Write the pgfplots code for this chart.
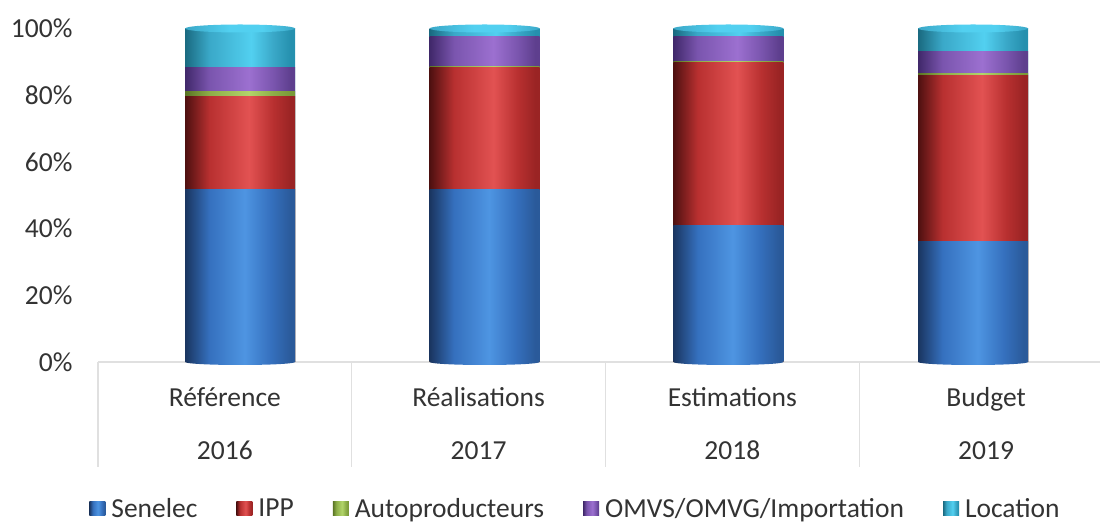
\documentclass[border=0pt]{standalone}
\usepackage{fontspec}
\setmainfont{Carlito}
\usepackage{pgfplots}
\pgfplotsset{compat=1.18}
\usepackage{pgfplotstable}

% cylinder-like horizontal shadings (dark left edge, highlight right of centre)
\definecolor{bD}{HTML}{1A3560}\definecolor{bM}{HTML}{3570BE}\definecolor{bL}{HTML}{4E95E2}\definecolor{bE}{HTML}{2A5A9A}
\definecolor{rD}{HTML}{4E1010}\definecolor{rM}{HTML}{B83030}\definecolor{rL}{HTML}{E25252}\definecolor{rE}{HTML}{9A2424}
\definecolor{gD}{HTML}{5A7424}\definecolor{gM}{HTML}{8DAE48}\definecolor{gL}{HTML}{B2D56A}\definecolor{gE}{HTML}{7A9A38}
\definecolor{pD}{HTML}{40286A}\definecolor{pM}{HTML}{7A55AE}\definecolor{pL}{HTML}{9C70D0}\definecolor{pE}{HTML}{5E3F8E}
\definecolor{cD}{HTML}{1A6A80}\definecolor{cM}{HTML}{3AA8C8}\definecolor{cL}{HTML}{52D0F0}\definecolor{cE}{HTML}{2590AE}
\definecolor{txt}{HTML}{333333}

\pgfdeclarehorizontalshading{cylB}{100bp}{color(0bp)=(bD); color(25bp)=(bD); color(36bp)=(bM); color(52bp)=(bL); color(64bp)=(bM); color(73bp)=(bE); color(100bp)=(bE)}
\pgfdeclarehorizontalshading{cylR}{100bp}{color(0bp)=(rD); color(25bp)=(rD); color(36bp)=(rM); color(54bp)=(rL); color(65bp)=(rM); color(73bp)=(rE); color(100bp)=(rE)}
\pgfdeclarehorizontalshading{cylG}{100bp}{color(0bp)=(gD); color(25bp)=(gD); color(36bp)=(gM); color(54bp)=(gL); color(65bp)=(gM); color(73bp)=(gE); color(100bp)=(gE)}
\pgfdeclarehorizontalshading{cylP}{100bp}{color(0bp)=(pD); color(25bp)=(pD); color(36bp)=(pM); color(54bp)=(pL); color(65bp)=(pM); color(73bp)=(pE); color(100bp)=(pE)}
\pgfdeclarehorizontalshading{cylC}{100bp}{color(0bp)=(cD); color(25bp)=(cD); color(36bp)=(cM); color(55bp)=(cL); color(65bp)=(cM); color(73bp)=(cE); color(100bp)=(cE)}
\pgfdeclarehorizontalshading{capC}{100bp}{color(0bp)=(cM); color(25bp)=(cM); color(45bp)=(cL); color(60bp)=(cL); color(75bp)=(cM); color(100bp)=(cM)}

% elliptical ends of the cylinders
\pgfdeclareplotmark{captop}{%
  \pgfpathellipse{\pgfpointorigin}{\pgfqpoint{55pt}{0pt}}{\pgfqpoint{0pt}{4pt}}%
  \pgfshadepath{capC}{0}\pgfusepath{}}
\pgfdeclareplotmark{capbottom}{%
  \pgfpathellipse{\pgfpointorigin}{\pgfqpoint{55pt}{0pt}}{\pgfqpoint{0pt}{3pt}}%
  \pgfshadepath{cylB}{0}\pgfusepath{}}

% shares of production (%), pos = drawn bar position
\pgfplotstableread{
pos    sen   ipp   auto  omvs  loc
0.060  51.6  27.9  1.5   7.2   11.8
1.024  51.6  36.6  0.4   8.9   2.5
1.984  40.8  48.9  0.4   7.4   2.5
2.949  36.0  50.0  0.4   6.6   7.0
}\datatable

\begin{document}
\begin{tikzpicture}
\useasboundingbox (0,0) rectangle (1100pt,526pt);
\begin{axis}[
  at={(98pt,164pt)}, anchor=south west,
  scale only axis, width=1015pt, height=333.5pt,
  xmin=-0.5, xmax=3.5, ymin=0, ymax=100,
  ybar, bar width=110pt,
  clip=false,
  axis x line*=bottom, axis y line*=left,
  x axis line style={draw=black!12, line width=1.2pt, -},
  y axis line style={draw=none},
  xtick={0,1,2,3},
  xticklabels={{Référence\\2016},{Réalisations\\2017},{Estimations\\2018},{Budget\\2019}},
  xticklabel style={font=\fontsize{27.5}{53}\selectfont, align=center, text=txt, anchor=north, yshift=-22pt},
  minor xtick={-0.5,0.5,1.5,2.5,3.5},
  xtick align=outside, major tick length=0pt, minor tick length=105pt,
  minor x tick style={draw=black!12, line width=1.2pt},
  ytick={0,20,40,60,80,100}, ytick style={draw=none},
  yticklabel={\pgfmathprintnumber{\tick}\%},
  /pgf/number format/assume math mode=true,
  yticklabel style={font=\fontsize{27.5}{33}\selectfont, text=txt, xshift=-22pt},
  legend columns=5,
  legend image code/.code={\path[#1] (0pt,-7pt) rectangle (16pt,7pt);},
  legend style={draw=none, fill=none, at={(0.470,-0.440)}, anchor=center,
    font=\fontsize{27.5}{33}\selectfont, text=txt,
    nodes={inner sep=1pt},
    /tikz/every odd column/.append style={column sep=5pt},
    /tikz/every even column/.append style={column sep=38pt}},
  cyl/.style={forget plot, draw=none, bar shift=0pt, shading=#1},
]
\addlegendimage{draw=none, shading=cylB}
\addlegendimage{draw=none, shading=cylR}
\addlegendimage{draw=none, shading=cylG}
\addlegendimage{draw=none, shading=cylP}
\addlegendimage{draw=none, shading=cylC}
\legend{Senelec, IPP, Autoproducteurs, OMVS/OMVG/Importation, Location}

% rounded base of each cylinder
\addplot[forget plot, only marks, mark=capbottom] table[x=pos, y expr=0] {\datatable};

% one cylinder per category; each segment drawn from the base up to its cumulative top,
% tallest first, so the lower segments cover the upper ones
\pgfplotsinvokeforeach{0,1,2,3}{
  \addplot[cyl=cylC, x filter/.expression={abs(x-#1)<0.5 ? x : nan}]
    table[x=pos, y expr=\thisrow{sen}+\thisrow{ipp}+\thisrow{auto}+\thisrow{omvs}+\thisrow{loc}] {\datatable};
  \addplot[cyl=cylP, x filter/.expression={abs(x-#1)<0.5 ? x : nan}]
    table[x=pos, y expr=\thisrow{sen}+\thisrow{ipp}+\thisrow{auto}+\thisrow{omvs}] {\datatable};
  \addplot[cyl=cylG, x filter/.expression={abs(x-#1)<0.5 ? x : nan}]
    table[x=pos, y expr=\thisrow{sen}+\thisrow{ipp}+\thisrow{auto}] {\datatable};
  \addplot[cyl=cylR, x filter/.expression={abs(x-#1)<0.5 ? x : nan}]
    table[x=pos, y expr=\thisrow{sen}+\thisrow{ipp}] {\datatable};
  \addplot[cyl=cylB, x filter/.expression={abs(x-#1)<0.5 ? x : nan}]
    table[x=pos, y=sen] {\datatable};
}
% elliptical top of each cylinder
\addplot[forget plot, only marks, mark=captop]
  table[x=pos, y expr=\thisrow{sen}+\thisrow{ipp}+\thisrow{auto}+\thisrow{omvs}+\thisrow{loc}] {\datatable};
\end{axis}
\end{tikzpicture}
\end{document}
